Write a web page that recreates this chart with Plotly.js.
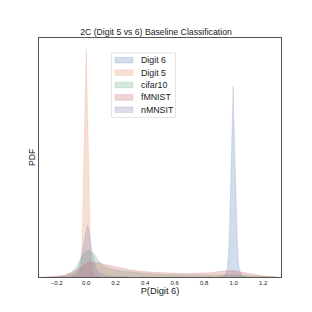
<!DOCTYPE html>
<html>
<head>
<meta charset="utf-8">
<script src="https://cdn.plot.ly/plotly-3.0.1.min.js"></script>
<style>html,body{margin:0;padding:0;background:#fff;}#chart{width:312px;height:312px;}</style>
</head>
<body>
<div id="chart"></div>
<script>
// ---- data ----
const seriesNames = ["Digit 6", "Digit 5", "cifar10", "fMNIST", "nMNSIT"];
const seriesColors = ["76,114,176", "221,132,82", "85,168,104", "196,78,82", "129,114,179"];

const digit6X = [0.90, 0.93, 0.946, 0.956, 0.962, 0.968, 0.974, 0.980, 0.984, 0.988, 0.992, 0.996, 1.000, 1.004, 1.008, 1.012, 1.018, 1.024, 1.030, 1.036, 1.046, 1.06, 1.09];
const digit6Y = [0, 0.3, 1.5, 4, 8, 15, 28, 42, 50, 60, 70, 83.9, 70, 60, 50, 42, 28, 15, 8, 4, 1.5, 0.3, 0];

const digit5X = [-0.10, -0.06, -0.045, -0.035, -0.028, -0.02, -0.014, -0.008, -0.004, 0, 0.004, 0.008, 0.014, 0.02, 0.028, 0.035, 0.045, 0.06, 0.10];
const digit5Y = [0, 0.5, 2, 6, 14, 34, 60, 76, 88, 100, 88, 76, 60, 34, 14, 6, 2, 0.5, 0];

const cifar10X = [-0.25, -0.18, -0.14, -0.1, -0.07, -0.04, -0.01, 0.02, 0.05, 0.08, 0.11, 0.15, 0.2, 0.3, 0.4, 0.5, 0.6, 0.7, 0.8, 0.9, 1.0, 1.1, 1.2, 1.3];
const cifar10Y = [0, 0.2, 0.8, 2.2, 4.2, 8, 10.8, 11.6, 10.5, 7.5, 5.2, 3.8, 3, 2.1, 1.5, 1.1, 0.9, 0.8, 0.8, 0.9, 1, 0.6, 0.2, 0];

const fmnistX = [-0.3, -0.2, -0.15, -0.1, -0.05, 0, 0.03, 0.08, 0.15, 0.2, 0.3, 0.4, 0.5, 0.6, 0.7, 0.8, 0.85, 0.9, 0.95, 1.0, 1.05, 1.1, 1.15, 1.2, 1.3];
const fmnistY = [0, 0.3, 0.8, 1.8, 3.6, 5.8, 6.6, 6.2, 5.2, 4.4, 3.1, 2.3, 1.9, 1.6, 1.5, 1.6, 1.9, 2.4, 2.8, 2.7, 2.1, 1.3, 0.8, 0.4, 0];

const nmnistX = [-0.2, -0.12, -0.08, -0.06, -0.04, -0.02, 0, 0.01, 0.02, 0.04, 0.06, 0.08, 0.1, 0.14, 0.2, 0.3];
const nmnistY = [0, 0.3, 1.2, 2.8, 6.5, 14, 20.5, 22.8, 20, 11, 5, 2.5, 1.4, 0.6, 0.2, 0];

const xTickVals = [-0.2, 0.0, 0.2, 0.4, 0.6, 0.8, 1.0, 1.2];
const xTickText = ["\u22120.2", "0.0", "0.2", "0.4", "0.6", "0.8", "1.0", "1.2"];

const seriesX = [digit6X, digit5X, cifar10X, fmnistX, nmnistX];
const seriesY = [digit6Y, digit5Y, cifar10Y, fmnistY, nmnistY];

// ---- layout geometry (pixels) ----
const W = 312, H = 312;
const PL = 39, PR = 281, PT = 38, PB = 277;
const px2x = p => (p - PL) / (PR - PL);
const py2y = p => (PB - p) / (PB - PT);
const FONT = "Liberation Sans, Arial, sans-serif";

const traces = seriesNames.map((name, i) => ({
  type: "scatter",
  mode: "lines",
  x: seriesX[i],
  y: seriesY[i],
  name: name,
  fill: "tozeroy",
  fillcolor: "rgba(" + seriesColors[i] + ",0.25)",
  line: { color: "rgba(" + seriesColors[i] + ",0.3)", width: 0.6 },
  hoverinfo: "skip",
  showlegend: false
}));

// custom compact legend (matplotlib style)
const shapes = [];
const annotations = [];
shapes.push({
  type: "rect", xref: "paper", yref: "paper",
  x0: px2x(111.5), x1: px2x(175.5), y0: py2y(117.5), y1: py2y(53),
  fillcolor: "rgba(255,255,255,0.8)", line: { color: "#dddddd", width: 0.8 }
});
const rowY = [60.2, 72.6, 85.0, 97.4, 109.8];
seriesNames.forEach((name, i) => {
  shapes.push({
    type: "rect", xref: "paper", yref: "paper",
    x0: px2x(115), x1: px2x(133), y0: py2y(rowY[i] + 2.8), y1: py2y(rowY[i] - 2.8),
    fillcolor: "rgba(" + seriesColors[i] + ",0.25)",
    line: { color: "rgba(" + seriesColors[i] + ",0.3)", width: 0.6 }
  });
  annotations.push({
    xref: "paper", yref: "paper", x: px2x(138.5), y: py2y(rowY[i]),
    xanchor: "left", yanchor: "middle", showarrow: false,
    text: name, font: { family: FONT, size: 8.8, color: "#1a1a1a" }
  });
});

// y-axis label placed as annotation to sit close to the frame
annotations.push({
  xref: "paper", yref: "paper", x: px2x(32), y: py2y(158),
  xanchor: "center", yanchor: "middle", showarrow: false, textangle: -90,
  text: "PDF", font: { family: FONT, size: 8.6, color: "#1a1a1a" }
});

const layout = {
  width: W, height: H,
  margin: { l: PL, r: W - PR, t: PT, b: H - PB, pad: 0 },
  paper_bgcolor: "#ffffff",
  plot_bgcolor: "#ffffff",
  font: { family: FONT, color: "#1a1a1a" },
  title: {
    text: "2C (Digit 5 vs 6) Baseline Classification",
    font: { size: 8.7, color: "#1a1a1a" },
    x: 0.5, xanchor: "center", y: 1 - 31.8 / H, yanchor: "middle", yref: "container"
  },
  xaxis: {
    range: [-0.32, 1.32],
    tickvals: xTickVals, ticktext: xTickText,
    tickfont: { size: 6, color: "#1a1a1a" },
    ticks: "", ticklen: 0,
    showgrid: false, zeroline: false,
    showline: true, mirror: true, linecolor: "#555", linewidth: 1,
    title: { text: "P(Digit 6)", font: { size: 9.3, color: "#1a1a1a" }, standoff: 2 }
  },
  yaxis: {
    range: [0, 105],
    showticklabels: false, ticks: "",
    showgrid: false, zeroline: false,
    showline: true, mirror: true, linecolor: "#555", linewidth: 1
  },
  shapes: shapes,
  annotations: annotations,
  showlegend: false
};

Plotly.newPlot("chart", traces, layout, { staticPlot: true, displayModeBar: false });
</script>
</body>
</html>
